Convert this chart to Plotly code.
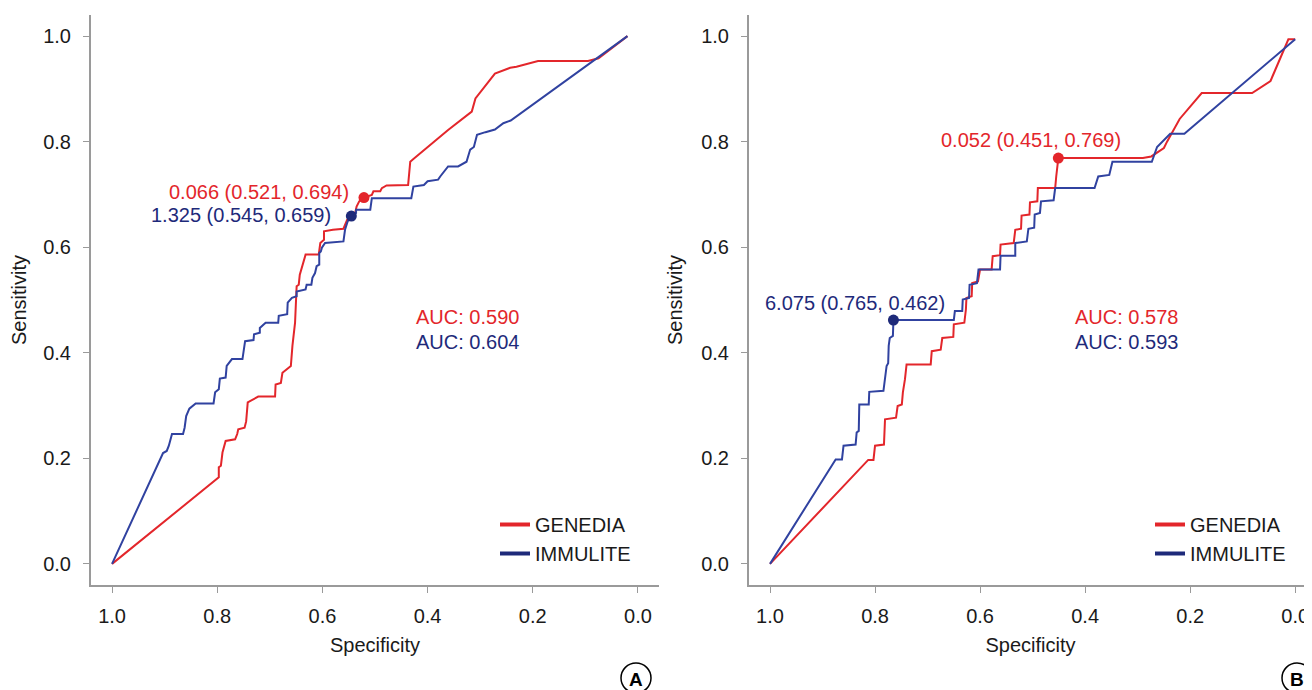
import plotly.graph_objects as go

# ---------------- data (specificity, sensitivity) ----------------
GENEDIA_A = [(1.0, 0.0), (0.797, 0.164), (0.797, 0.183), (0.793, 0.186), (0.790, 0.211), (0.784, 0.233),
             (0.766, 0.236), (0.762, 0.246), (0.760, 0.255), (0.748, 0.258), (0.745, 0.270), (0.742, 0.306),
             (0.722, 0.317), (0.690, 0.317), (0.689, 0.340), (0.679, 0.343), (0.676, 0.362), (0.660, 0.375),
             (0.657, 0.413), (0.652, 0.457), (0.649, 0.526), (0.645, 0.529), (0.643, 0.548), (0.638, 0.564),
             (0.632, 0.586), (0.607, 0.586), (0.604, 0.608), (0.597, 0.614), (0.597, 0.630), (0.580, 0.633),
             (0.560, 0.635), (0.553, 0.652), (0.540, 0.655), (0.535, 0.677), (0.530, 0.687), (0.521, 0.694),
             (0.506, 0.699), (0.503, 0.706), (0.490, 0.706), (0.487, 0.712), (0.478, 0.717), (0.437, 0.718),
             (0.433, 0.762), (0.427, 0.767), (0.361, 0.822), (0.316, 0.857), (0.309, 0.882), (0.272, 0.929),
             (0.243, 0.940), (0.231, 0.942), (0.190, 0.953), (0.095, 0.953), (0.075, 0.958), (0.020, 1.0)]
IMMULITE_A = [(1.0, 0.0), (0.903, 0.210), (0.896, 0.214), (0.892, 0.224), (0.886, 0.246), (0.865, 0.246),
              (0.862, 0.258), (0.859, 0.280), (0.853, 0.294), (0.841, 0.304), (0.807, 0.304), (0.804, 0.325),
              (0.797, 0.331), (0.795, 0.351), (0.784, 0.353), (0.782, 0.375), (0.772, 0.388), (0.752, 0.388),
              (0.747, 0.422), (0.731, 0.424), (0.730, 0.435), (0.719, 0.438), (0.719, 0.447), (0.708, 0.457),
              (0.684, 0.457), (0.683, 0.470), (0.667, 0.473), (0.666, 0.495), (0.658, 0.504), (0.649, 0.507),
              (0.649, 0.516), (0.632, 0.520), (0.630, 0.529), (0.621, 0.529), (0.619, 0.542), (0.614, 0.551),
              (0.611, 0.564), (0.606, 0.567), (0.606, 0.589), (0.603, 0.592), (0.601, 0.599), (0.595, 0.608),
              (0.560, 0.611), (0.557, 0.633), (0.552, 0.649), (0.545, 0.659), (0.536, 0.665), (0.536, 0.671),
              (0.509, 0.671), (0.506, 0.693), (0.431, 0.693), (0.427, 0.715), (0.407, 0.718), (0.400, 0.725),
              (0.380, 0.728), (0.376, 0.734), (0.361, 0.753), (0.342, 0.753), (0.326, 0.762), (0.319, 0.785),
              (0.312, 0.790), (0.306, 0.813), (0.290, 0.818), (0.272, 0.823), (0.256, 0.835), (0.242, 0.840),
              (0.020, 1.0)]
GENEDIA_B = [(1.0, 0.0), (0.813, 0.197), (0.803, 0.197), (0.800, 0.224), (0.783, 0.226), (0.781, 0.274),
             (0.760, 0.277), (0.757, 0.299), (0.749, 0.302), (0.747, 0.325), (0.743, 0.350), (0.740, 0.378),
             (0.694, 0.378), (0.692, 0.403), (0.675, 0.406), (0.672, 0.428), (0.651, 0.430), (0.650, 0.454),
             (0.630, 0.457), (0.627, 0.482), (0.626, 0.504), (0.616, 0.507), (0.615, 0.532), (0.604, 0.535),
             (0.600, 0.558), (0.578, 0.558), (0.576, 0.583), (0.562, 0.585), (0.561, 0.605), (0.536, 0.608),
             (0.533, 0.633), (0.522, 0.635), (0.521, 0.660), (0.506, 0.662), (0.505, 0.685), (0.491, 0.687),
             (0.490, 0.712), (0.457, 0.712), (0.455, 0.734), (0.451, 0.769), (0.290, 0.769), (0.274, 0.772),
             (0.250, 0.788), (0.244, 0.800), (0.220, 0.843), (0.178, 0.892), (0.082, 0.892), (0.047, 0.915),
             (0.013, 0.994), (0.0, 0.994)]
IMMULITE_B = [(1.0, 0.0), (0.875, 0.198), (0.863, 0.198), (0.860, 0.224), (0.837, 0.226), (0.835, 0.249),
              (0.831, 0.252), (0.830, 0.302), (0.812, 0.302), (0.811, 0.326), (0.784, 0.328), (0.781, 0.350),
              (0.778, 0.375), (0.775, 0.380), (0.774, 0.413), (0.772, 0.428), (0.766, 0.432), (0.765, 0.462),
              (0.650, 0.462), (0.648, 0.479), (0.634, 0.479), (0.633, 0.501), (0.621, 0.504), (0.620, 0.529),
              (0.606, 0.532), (0.603, 0.558), (0.562, 0.558), (0.561, 0.584), (0.533, 0.584), (0.533, 0.608),
              (0.511, 0.611), (0.508, 0.635), (0.497, 0.637), (0.496, 0.662), (0.486, 0.665), (0.484, 0.687),
              (0.460, 0.689), (0.457, 0.712), (0.382, 0.712), (0.375, 0.734), (0.354, 0.737), (0.348, 0.762),
              (0.273, 0.762), (0.263, 0.790), (0.238, 0.815), (0.211, 0.815), (0.0, 0.994)]

# best thresholds: (threshold, specificity, sensitivity)
BEST_A = {"GENEDIA": (0.066, 0.521, 0.694), "IMMULITE": (1.325, 0.545, 0.659)}
BEST_B = {"GENEDIA": (0.052, 0.451, 0.769), "IMMULITE": (6.075, 0.765, 0.462)}
AUC_A = {"GENEDIA": 0.590, "IMMULITE": 0.604}
AUC_B = {"GENEDIA": 0.578, "IMMULITE": 0.593}
TICKS = [0.0, 0.2, 0.4, 0.6, 0.8, 1.0]
PANEL_LABELS = ["A", "B"]

RED = "#E3262B"
BLUE = "#3042A0"
NAVY = "#1E2A7A"
FONT = "Liberation Sans, Arial, sans-serif"
AXC = "#9a9a9a"

# the page body adds an 8px offset; positions below are given in window pixels
OFF = 8
W, H = 1312, 690

def px(v):
    """window pixel x -> paper fraction"""
    return (v - OFF) / W

def py(v):
    """window pixel y -> paper fraction"""
    return 1 - (v - OFF) / H

fig = go.Figure()

def add_panel(gen, imm, xa, ya, legend):
    fig.add_trace(go.Scatter(x=[p[0] for p in gen], y=[p[1] for p in gen], mode="lines",
                             line=dict(color=RED, width=2), xaxis=xa, yaxis=ya, showlegend=False))
    fig.add_trace(go.Scatter(x=[p[0] for p in imm], y=[p[1] for p in imm], mode="lines",
                             line=dict(color=BLUE, width=2), xaxis=xa, yaxis=ya, showlegend=False))
    # legend-only entries
    fig.add_trace(go.Scatter(x=[None], y=[None], mode="lines", name="GENEDIA",
                             line=dict(color=RED, width=4), xaxis=xa, yaxis=ya, legend=legend))
    fig.add_trace(go.Scatter(x=[None], y=[None], mode="lines", name="IMMULITE",
                             line=dict(color=NAVY, width=4), xaxis=xa, yaxis=ya, legend=legend))

add_panel(GENEDIA_A, IMMULITE_A, "x", "y", "legend")
add_panel(GENEDIA_B, IMMULITE_B, "x2", "y2", "legend2")

def add_dots(best, xa, ya):
    for key, col in (("GENEDIA", RED), ("IMMULITE", NAVY)):
        t, s, se = best[key]
        fig.add_trace(go.Scatter(x=[s], y=[se], mode="markers", marker=dict(color=col, size=11),
                                 xaxis=xa, yaxis=ya, showlegend=False))

add_dots(BEST_A, "x", "y")
add_dots(BEST_B, "x2", "y2")

def lbl(t):
    return f"{t[0]:.3f} ({t[1]:.3f}, {t[2]:.3f})"

annots = []
# threshold labels (offsets in pixels from the dots)
annots.append(dict(x=BEST_A["GENEDIA"][1], y=BEST_A["GENEDIA"][2], xref="x", yref="y",
                   text=lbl(BEST_A["GENEDIA"]), showarrow=False, xshift=-105, yshift=6,
                   font=dict(color=RED, size=20, family=FONT)))
annots.append(dict(x=BEST_A["IMMULITE"][1], y=BEST_A["IMMULITE"][2], xref="x", yref="y",
                   text=lbl(BEST_A["IMMULITE"]), showarrow=False, xshift=-110, yshift=1,
                   font=dict(color=NAVY, size=20, family=FONT)))
annots.append(dict(x=BEST_B["GENEDIA"][1], y=BEST_B["GENEDIA"][2], xref="x2", yref="y2",
                   text=lbl(BEST_B["GENEDIA"]), showarrow=False, xshift=-27, yshift=18,
                   font=dict(color=RED, size=20, family=FONT)))
annots.append(dict(x=BEST_B["IMMULITE"][1], y=BEST_B["IMMULITE"][2], xref="x2", yref="y2",
                   text=lbl(BEST_B["IMMULITE"]), showarrow=False, xshift=-38, yshift=17,
                   font=dict(color=NAVY, size=20, family=FONT)))

# AUC texts
for auc, xr, yr, xpos in ((AUC_A, "x", "y", 0.426), (AUC_B, "x2", "y2", 0.424)):
    annots.append(dict(x=xpos, y=0.467, xref=xr, yref=yr, xanchor="left", yanchor="middle",
                       text=f"AUC: {auc['GENEDIA']:.3f}",
                       showarrow=False, font=dict(color=RED, size=20, family=FONT)))
    annots.append(dict(x=xpos, y=0.420, xref=xr, yref=yr, xanchor="left", yanchor="middle",
                       text=f"AUC: {auc['IMMULITE']:.3f}",
                       showarrow=False, font=dict(color=NAVY, size=20, family=FONT)))

# panel letters in circles
shapes = []
for lab, cx in zip(PANEL_LABELS, (636, 1297)):
    shapes.append(dict(type="circle", xref="paper", yref="paper", x0=px(cx - 15), x1=px(cx + 15),
                       y0=py(693), y1=py(663), line=dict(color="black", width=1.5)))
    annots.append(dict(x=px(cx), y=py(679), xref="paper", yref="paper", xanchor="center", yanchor="middle",
                       text=f"<b>{lab}</b>",
                       showarrow=False, font=dict(color="black", size=19, family=FONT)))

axis_common = dict(showgrid=False, zeroline=False, showline=True, linecolor=AXC, linewidth=2,
                   ticks="outside", ticklen=6, tickwidth=1, tickcolor=AXC,
                   tickvals=TICKS, tickformat=".1f", ticklabeloverflow="allow", automargin=False,
                   tickfont=dict(size=20, color="#1a1a1a", family=FONT))

xcommon = dict(ticklabelstandoff=6, title=dict(text="Specificity", standoff=12, font=dict(size=20)),
               **axis_common)
ycommon = dict(ticklabelstandoff=8, title=dict(text="Sensitivity", standoff=13, font=dict(size=20)),
               **axis_common)

ydom = [py(585), py(15)]
fig.update_layout(
    width=W, height=H, autosize=False,
    margin=dict(l=0, r=0, t=0, b=0),
    paper_bgcolor="white", plot_bgcolor="white",
    font=dict(family=FONT, size=20, color="#1a1a1a"),
    xaxis=dict(domain=[px(91), px(659)], range=[1.04, -0.04], anchor="y", **xcommon),
    yaxis=dict(domain=ydom, range=[-0.04, 1.04], anchor="x", **ycommon),
    xaxis2=dict(domain=[px(749), px(1312)], range=[1.04, -0.032], anchor="y2", **xcommon),
    yaxis2=dict(domain=ydom, range=[-0.04, 1.04], anchor="x2", **ycommon),
    legend=dict(x=px(495), y=py(505), xanchor="left", yanchor="top", itemwidth=30,
                bgcolor="rgba(0,0,0,0)", font=dict(size=20, color="#1a1a1a", family=FONT)),
    legend2=dict(x=px(1150), y=py(505), xanchor="left", yanchor="top", itemwidth=30,
                 bgcolor="rgba(0,0,0,0)", font=dict(size=20, color="#1a1a1a", family=FONT)),
    annotations=annots,
    shapes=shapes,
)

fig.write_html("out.html")
